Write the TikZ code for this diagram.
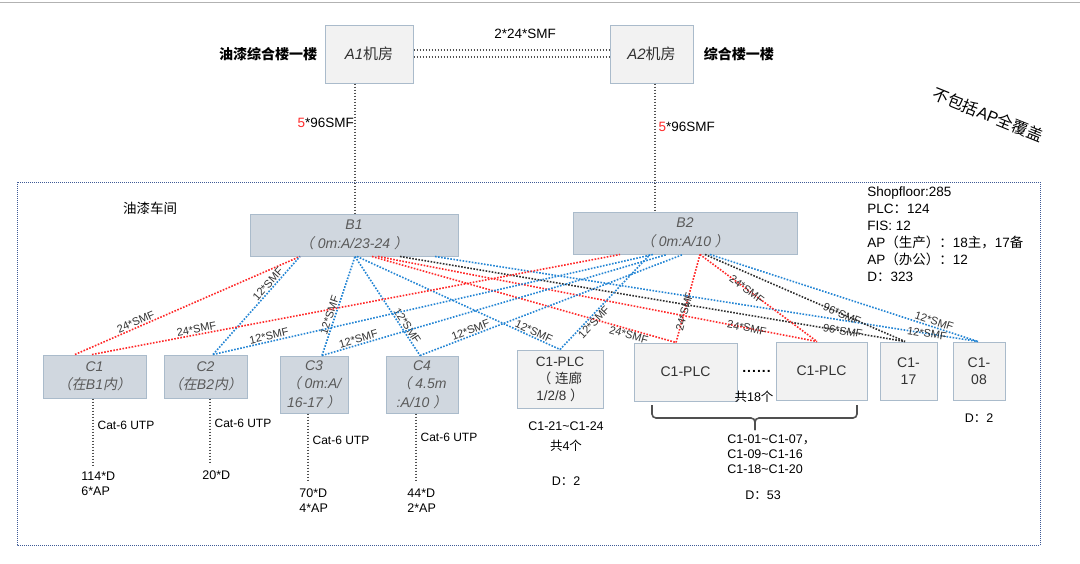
\documentclass[tikz,border=0pt]{standalone}
\usepackage{fontspec}
\usepackage{xcolor}
\usepackage{tikz}
\usetikzlibrary{positioning}

\setmainfont{Liberation Sans}
\newfontfamily\cjk{Noto Sans CJK SC}
\newfontfamily\cjkit[FakeSlant=0.2]{Noto Sans CJK SC}

\newcommand{\zh}[1]{{\cjk #1}}
\newcommand{\zhi}[1]{{\cjkit #1}}
\newcommand{\tld}{\textasciitilde}
\newcommand{\fs}[2]{\fontsize{#1}{#2}\selectfont}

\definecolor{fibred}{RGB}{255,40,40}
\definecolor{fibblue}{RGB}{35,133,212}
\definecolor{fibblack}{RGB}{45,45,45}
\definecolor{dotgray}{RGB}{80,80,80}
\definecolor{boxlight}{RGB}{242,242,242}
\definecolor{boxblue}{RGB}{208,215,223}
\definecolor{boxedge}{RGB}{170,187,203}
\definecolor{graytext}{RGB}{90,90,90}
\definecolor{darktext}{RGB}{50,50,50}
\definecolor{framecol}{RGB}{62,90,150}

\begin{document}
\begin{tikzpicture}[x=1pt, y=-1pt, thick, node distance=8pt]
	\tikzstyle{boxg}=[draw=boxedge, fill=boxlight, line width=1pt, align=center, text=darktext, font=\fs{14}{17}]
	\tikzstyle{boxb}=[draw=boxedge, fill=boxblue, line width=1pt, align=center, text=graytext, font=\fs{14}{18.5}\itshape]
	\tikzstyle{fiber}=[line width=1.6pt, dash pattern=on 1.6pt off 1.5pt]
	\tikzstyle{redline}=[fiber, draw=fibred]
	\tikzstyle{blueline}=[fiber, draw=fibblue]
	\tikzstyle{blackline}=[fiber, draw=fibblack]
	\tikzstyle{catline}=[draw=dotgray, line width=1.3pt, dash pattern=on 1.3pt off 1.7pt]
	\tikzstyle{lbl}=[font=\fs{11}{12}, text=darktext, inner sep=1pt, sloped]
	\tikzstyle{cat}=[right, inner sep=4pt, font=\fs{12}{14}]
	\tikzstyle{dtxt}=[anchor=north west, align=left, inner sep=0pt, font=\fs{12.5}{15}]
	\tikzstyle{note}=[inner sep=0pt, font=\fs{12.5}{15}]

	\useasboundingbox (0,0) rectangle (1080,563);
	\fill[white] (0,0) rectangle (1080,563);
	\draw[gray!60, line width=1pt] (0,2.5) -- (1080,2.5);
	\draw[framecol, line width=.9pt, dash pattern=on 1pt off 1pt] (17,182) rectangle (1040,545);

	% machine rooms
	\node[boxg, minimum width=88pt, minimum height=58pt, font=\fs{15}{17}] (A1) at (369,54) {\textit{A1}\zh{机房}};
	\node[boxg, minimum width=83pt, minimum height=58pt, font=\fs{15}{17}] (A2) at (651.5,54) {\textit{A2}\zh{机房}};
	\node[font=\fs{14}{17}\bfseries, inner sep=0pt, left=7pt of A1] (bldA) {\zh{油漆综合楼一楼}};
	\node[font=\fs{14}{17}\bfseries, inner sep=0pt, right=10pt of A2] (bldB) {\zh{综合楼一楼}};
	\node[rotate=-22, font=\fs{16}{18}, inner sep=0pt] (noap) at (988,115) {\zh{不包括}AP\zh{全覆盖}};

	% distribution
	\node[boxb, minimum width=208pt, minimum height=42pt] (B1) at (354,235) {B1\\\zhi{（} 0m:A/23-24 \zhi{）}};
	\node[boxb, minimum width=224pt, minimum height=42pt] (B2) at (685,233) {B2\\\zhi{（} 0m:A/10 \zhi{）}};
	\node[font=\fs{13.5}{16}, inner sep=0pt] (shop) at (150,208) {\zh{油漆车间}};
	\node[font=\fs{13.5}{17}, align=left, anchor=north west, inner sep=0pt] (stat) at (867,186) {Shopfloor:285\\PLC\zh{：}124\\FIS: 12\\AP\zh{（生产）：}18\zh{主，}17\zh{备}\\AP\zh{（办公）：}12\\D\zh{：}323};

	% access
	\node[boxb, minimum width=103pt, minimum height=43pt] (C1) at (94.5,376.5) {C1\\\zhi{（在}B1\zhi{内）}};
	\node[boxb, minimum width=83pt, minimum height=43pt] (C2) at (205.5,376.5) {C2\\\zhi{（在}B2\zhi{内）}};
	\node[boxb, minimum width=68pt, minimum height=57pt] (C3) at (314,384.5) {C3\\\zhi{（} 0m:A/\\16-17 \zhi{）}};
	\node[boxb, minimum width=72pt, minimum height=57pt] (C4) at (422,384.5) {C4\\\zhi{（} 4.5m\\:A/10 \zhi{）}};
	\node[boxg, minimum width=86pt, minimum height=58pt, font=\fs{13.5}{17}] (CPLC) at (560,379) {C1-PLC\\\zh{（} \zh{连廊}\\1/2/8 \zh{）}};
	\node[boxg, minimum width=103pt, minimum height=58pt] (PLCl) at (685.5,372) {C1-PLC};
	\node[boxg, minimum width=91pt, minimum height=58pt] (PLCr) at (821.5,371) {C1-PLC};
	\node[boxg, minimum width=57pt, minimum height=58pt] (C17) at (908.5,371) {C1-\\17};
	\node[boxg, minimum width=52pt, minimum height=58pt] (C08) at (979,371) {C1-\\08};
	\node[font=\fs{14}{14}\bfseries, inner sep=0pt] (dots) at (756.5,371) {.\kern1pt.\kern1pt.\kern1pt.\kern1pt.\kern1pt.};

	% counts
	\node[note] (cnt18) at (754,397) {\zh{共}18\zh{个}};
	\draw[dotgray, line width=1.6pt, rounded corners=4pt] (652,405) -- (652,418) -- (755,418) -- (755,430);
	\draw[dotgray, line width=1.6pt, rounded corners=4pt] (857,405) -- (857,418) -- (755,418) -- (755,430);
	\node[note, align=center, font=\fs{12.5}{20}] (plcrng) at (566,437) {C1-21\tld C1-24\\\zh{共}4\zh{个}};
	\node[note] (dplc) at (566,481) {D\zh{：}2};
	\node[dtxt] (plcall) at (727,434) {C1-01\tld C1-07\zh{，}\\C1-09\tld C1-16\\C1-18\tld C1-20};
	\node[note] (d53) at (763,495) {D\zh{：}53};
	\node[note, below=13pt of C08] (d08) {D\zh{：}2};

	% uplinks
	\path ([yshift=4pt]A1.east) edge[catline] node[pos=.57, above=11pt, inner sep=0pt, font=\fs{13.5}{16}] {2*24*SMF} ([yshift=4pt]A2.west);
	\path ([yshift=-3pt]A1.east) edge[catline] ([yshift=-3pt]A2.west);
	\path ([xshift=-14pt]A1.south) edge[catline] node[left, pos=.3, inner sep=.5pt, font=\fs{13.5}{16}] {\textcolor{fibred}{5}*96SMF} ([xshift=1pt]B1.north);
	\path ([xshift=3.5pt]A2.south) edge[catline] node[right, pos=.34, inner sep=3pt, font=\fs{13.5}{16}] {\textcolor{fibred}{5}*96SMF} ([xshift=-30pt]B2.north);

	% fibres from B1
	\path ([xshift=-19.5pt]C1.north) edge[redline] node[lbl, pos=.28, above] {24*SMF} ([xshift=-54pt]B1.south);
	\path ([xshift=7.5pt]C2.north) edge[blueline] node[lbl, pos=.68, above] {12*SMF} ([xshift=-54pt]B1.south);
	\path ([xshift=8pt]C3.north) edge[blueline] node[lbl, pos=.39, above] {12*SMF} ([xshift=1pt]B1.south);
	\path ([xshift=1pt]B1.south) edge[blueline] node[lbl, pos=.73, above] {12*SMF} ([xshift=-2pt]C4.north);
	\path ([xshift=3pt]B1.south) edge[blueline] node[lbl, pos=.86, above] {12*SMF} (CPLC.north);
	\path ([xshift=18pt]B1.south) edge[redline] node[lbl, pos=.85, below] {24*SMF} ([xshift=-9.5pt]PLCl.north);
	\path ([xshift=24pt]B1.south) edge[redline] node[lbl, pos=.84] {24*SMF} ([xshift=-4.5pt]PLCr.north);
	\path ([xshift=46pt]B1.south) edge[blackline] node[lbl, pos=.877] {96*SMF} ([xshift=-3.5pt]C17.north);
	\path ([xshift=81pt]B1.south) edge[blueline] node[lbl, pos=.906] {12*SMF} ([xshift=-1pt]C08.north);

	% fibres from B2
	\path ([xshift=-2.5pt]C1.north) edge[redline] node[lbl, pos=.2, above] {24*SMF} ([xshift=-65pt]B2.south);
	\path ([xshift=7.5pt]C2.north) edge[blueline] node[lbl, pos=.13, above] {12*SMF} ([xshift=-32pt]B2.south);
	\path ([xshift=8pt]C3.north) edge[blueline] node[lbl, pos=.11, above] {12*SMF} ([xshift=-18pt]B2.south);
	\path ([xshift=-2pt]C4.north) edge[blueline] node[lbl, pos=.2, above] {12*SMF} ([xshift=-2pt]B2.south);
	\path (CPLC.north) edge[blueline] node[lbl, pos=.33, below] {12*SMF} ([xshift=-35pt]B2.south);
	\path ([xshift=-9.5pt]PLCl.north) edge[redline] node[lbl, pos=.35] {24*SMF} ([xshift=15pt]B2.south);
	\path ([xshift=15pt]B2.south) edge[redline] node[lbl, pos=.4] {24*SMF} ([xshift=-4.5pt]PLCr.north);
	\path ([xshift=20pt]B2.south) edge[blackline] node[lbl, pos=.685] {96*SMF} ([xshift=-3.5pt]C17.north);
	\path ([xshift=25pt]B2.south) edge[blueline] node[lbl, pos=.83, above] {12*SMF} ([xshift=-1pt]C08.north);

	% copper
	\coordinate (e1) at (93,465);
	\coordinate (e2) at (210,463);
	\coordinate (e3) at (308,480);
	\coordinate (e4) at (416,480);
	\path ([xshift=-1.5pt]C1.south) edge[catline] node[cat, pos=.4] {Cat-6 UTP} (e1);
	\path ([xshift=4.5pt]C2.south) edge[catline] node[cat, pos=.38] {Cat-6 UTP} (e2);
	\path ([xshift=-6pt]C3.south) edge[catline] node[cat, pos=.4] {Cat-6 UTP} (e3);
	\path ([xshift=-6pt]C4.south) edge[catline] node[cat, pos=.36] {Cat-6 UTP} (e4);
	\node[dtxt] (c1d) at (81,471) {114*D\\6*AP};
	\node[dtxt] (c2d) at (202,470) {20*D};
	\node[dtxt] (c3d) at (299,488) {70*D\\4*AP};
	\node[dtxt] (c4d) at (407,488) {44*D\\2*AP};
\end{tikzpicture}
\end{document}
